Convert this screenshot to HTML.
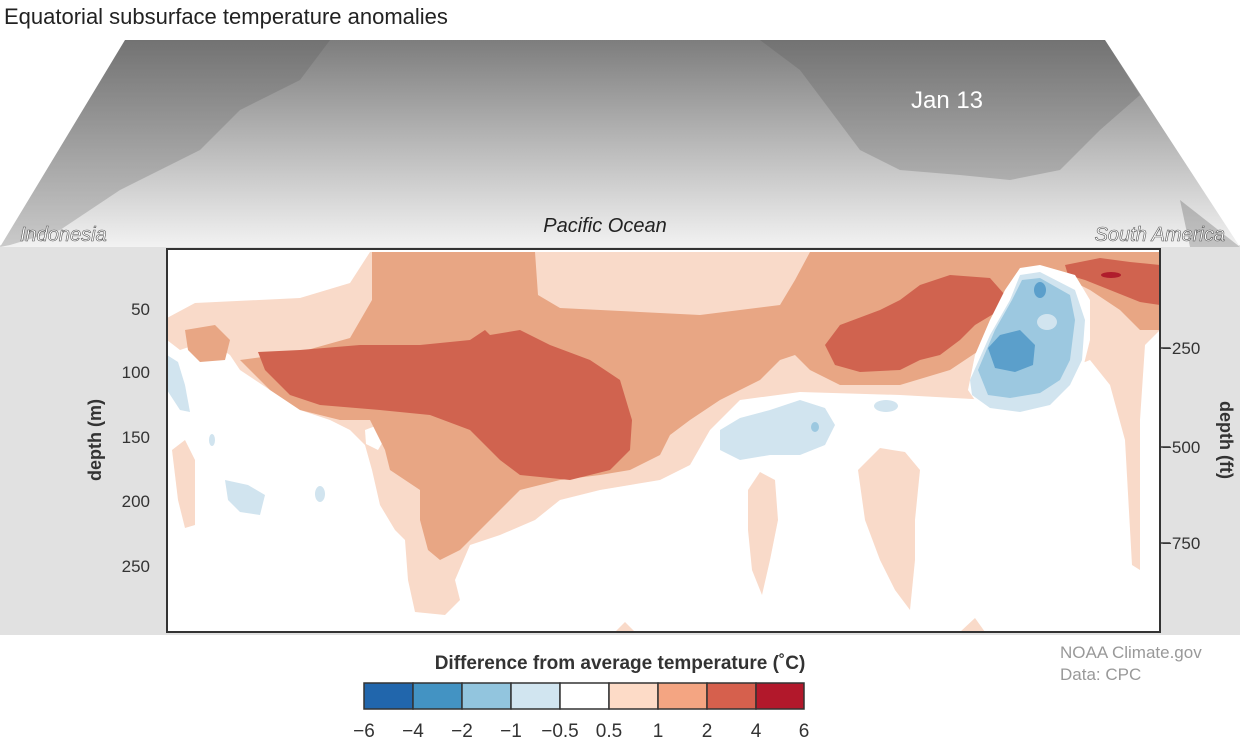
<!DOCTYPE html>
<html><head><meta charset="utf-8"><style>
body{margin:0;width:1240px;height:747px;background:#fff;overflow:hidden;font-family:"Liberation Sans",sans-serif}
</style></head><body>
<svg width="1240" height="747" xmlns="http://www.w3.org/2000/svg" font-family="Liberation Sans, sans-serif">
<defs>
<linearGradient id="mg" x1="0" y1="0" x2="0" y2="1">
<stop offset="0" stop-color="#7d7d7d"/><stop offset="0.5" stop-color="#b8b8b8"/><stop offset="1" stop-color="#f2f2f2"/></linearGradient>
</defs>
<rect x="0" y="245" width="1240" height="390" fill="#e1e1e1"/>
<text x="4" y="24" font-size="22" fill="#222">Equatorial subsurface temperature anomalies</text>
<polygon points="125,40 1105,40 1240,247 0,247" fill="url(#mg)"/>
<path d="M125,40 L330,40 L300,80 L240,110 L200,150 L120,190 L60,230 L10,245 L0,247 Z" fill="#555" opacity="0.25"/>
<path d="M760,40 L1105,40 L1140,95 L1100,130 L1060,170 L1010,180 L960,175 L900,170 L860,150 L830,110 L800,70 Z" fill="#555" opacity="0.25"/>
<path d="M1180,200 L1240,247 L1190,247 Z" fill="#555" opacity="0.3"/>
<text x="947" y="108" font-size="24" fill="#fff" text-anchor="middle">Jan 13</text>
<g font-size="20" font-style="italic" fill="#fff" stroke="#555" stroke-width="0.6">
<text x="20" y="241">Indonesia</text>
<text x="1225" y="241" text-anchor="end">South America</text>
</g>
<text x="605" y="232" font-size="20" fill="#222" font-style="italic" text-anchor="middle">Pacific Ocean</text>
<rect x="167" y="249" width="993" height="383" fill="#fff"/>
<g>
<path fill="#f9dac9" d="M167,318 L195,303 L300,298 L350,283 L370,252 L1160,252 L1160,330 L1145,345 L1140,420 L1140,570 L1132,565 L1125,440 L1110,385 L1090,360 L990,400 L900,395 L800,392 L740,400 L710,430 L690,465 L660,480 L600,490 L560,500 L535,520 L500,535 L470,545 L455,580 L460,600 L445,615 L415,612 L408,580 L405,540 L395,530 L380,505 L372,470 L365,445 L350,430 L330,420 L300,410 L270,390 L240,370 L230,355 L215,345 L195,345 L180,350 L167,340 Z"/>
<path fill="#f9dac9" d="M172,450 L185,440 L195,460 L195,525 L185,528 L178,500 Z"/>
<path fill="#f9dac9" d="M748,490 L760,472 L775,480 L778,520 L770,560 L762,595 L752,570 L748,530 Z"/>
<path fill="#f9dac9" d="M858,470 L880,448 L905,452 L920,470 L915,520 L915,560 L910,610 L895,590 L880,560 L865,520 Z"/>
<path fill="#fff" d="M365,430 L378,425 L385,438 L378,450 L366,444 Z"/>
<path fill="#e8a684" d="M185,330 L215,325 L230,340 L225,360 L200,362 L188,350 Z"/>
<path fill="#e8a684" d="M240,360 L300,352 L350,338 L372,300 L372,252 L535,252 L538,295 L560,308 L700,315 L780,305 L795,280 L810,252 L1160,252 L1160,330 L1140,330 L1120,310 L1090,290 L1060,275 L1030,270 L1015,290 L1005,320 L980,350 L950,370 L900,385 L840,385 L810,370 L795,355 L780,360 L760,380 L720,400 L690,420 L670,435 L660,455 L630,470 L600,475 L560,480 L520,490 L500,510 L480,530 L460,550 L440,560 L428,550 L420,520 L420,490 L405,480 L390,470 L385,450 L370,420 L340,420 L300,410 L270,390 Z"/>
<path fill="#d0634f" d="M258,352 L300,350 L360,345 L420,345 L470,340 L485,330 L490,335 L520,330 L550,345 L590,360 L620,380 L632,420 L630,450 L610,470 L570,480 L520,475 L500,460 L470,430 L430,415 L380,410 L320,405 L290,395 L265,370 Z"/>
<path fill="#d0634f" d="M825,345 L840,325 L880,310 L900,300 L920,285 L950,275 L990,278 L1005,295 L1000,310 L975,325 L960,340 L940,355 L920,360 L900,370 L860,372 L835,365 Z"/>
<path fill="#d0634f" d="M1065,265 L1100,258 L1130,262 L1160,265 L1160,305 L1140,302 L1110,290 L1085,280 L1068,275 Z"/>
<ellipse cx="1111" cy="275" rx="10" ry="3" fill="#b01d2c"/>
<path fill="#fff" d="M975,355 L990,320 L1005,290 L1020,268 L1040,265 L1075,275 L1090,300 L1090,340 L1080,380 L1060,410 L1020,420 L985,415 L968,390 Z"/>
<path fill="#d1e4ef" d="M970,380 L990,335 L1010,300 L1020,275 L1040,272 L1075,290 L1085,320 L1082,360 L1070,385 L1050,405 L1020,412 L990,408 L972,395 Z"/>
<path fill="#9cc8e0" d="M978,370 L995,330 L1012,300 L1022,280 L1040,278 L1070,295 L1075,320 L1070,360 L1060,380 L1040,393 L1010,398 L988,395 Z"/>
<ellipse cx="1047" cy="322" rx="10" ry="8" fill="#d1e4ef"/>
<path fill="#5b9fcb" d="M988,348 L1000,335 L1020,330 L1035,345 L1033,365 L1015,372 L995,368 Z"/>
<ellipse cx="1040" cy="290" rx="6" ry="8" fill="#5b9fcb"/>
<path fill="#d1e4ef" d="M720,430 L740,418 L770,410 L800,400 L825,408 L835,425 L825,445 L800,455 L770,455 L740,460 L720,450 Z"/>
<ellipse cx="815" cy="427" rx="4" ry="5" fill="#9cc8e0"/>
<ellipse cx="886" cy="406" rx="12" ry="6" fill="#d1e4ef"/>
<path fill="#d1e4ef" d="M167,355 L178,362 L185,385 L190,412 L180,410 L167,390 Z"/>
<path fill="#d1e4ef" d="M225,480 L248,485 L265,495 L260,515 L240,512 L228,500 Z"/>
<ellipse cx="320" cy="494" rx="5" ry="8" fill="#d1e4ef"/>
<ellipse cx="212" cy="440" rx="3" ry="6" fill="#d1e4ef"/>
<path fill="#f9dac9" d="M615,632 L625,622 L635,632 Z M960,632 L975,618 L985,632 Z"/>
</g>
<rect x="167" y="249" width="993" height="383" fill="none" stroke="#333" stroke-width="2"/>
<g font-size="17" fill="#333" text-anchor="end">
<text x="150" y="315">50</text><text x="150" y="378">100</text><text x="150" y="443">150</text><text x="150" y="507">200</text><text x="150" y="572">250</text>
</g>
<g stroke="#333" stroke-width="1.5"><line x1="1160" y1="348" x2="1170" y2="348"/><line x1="1160" y1="447" x2="1170" y2="447"/><line x1="1160" y1="543" x2="1170" y2="543"/></g>
<g font-size="17" fill="#333"><text x="1162" y="354">−250</text><text x="1162" y="453">−500</text><text x="1162" y="549">−750</text></g>
<text transform="translate(101,440) rotate(-90)" font-size="18" font-weight="bold" fill="#333" text-anchor="middle">depth (m)</text>
<text transform="translate(1220,440) rotate(90)" font-size="18" font-weight="bold" fill="#333" text-anchor="middle">depth (ft)</text>
<text x="620" y="669" font-size="19" font-weight="bold" fill="#333" text-anchor="middle">Difference from average temperature (˚C)</text>
<g stroke="#333" stroke-width="1.5">
<rect x="364" y="683" width="49" height="26" fill="#2166ac"/>
<rect x="413" y="683" width="49" height="26" fill="#4393c3"/>
<rect x="462" y="683" width="49" height="26" fill="#92c5de"/>
<rect x="511" y="683" width="49" height="26" fill="#d1e5f0"/>
<rect x="560" y="683" width="49" height="26" fill="#ffffff"/>
<rect x="609" y="683" width="49" height="26" fill="#fddbc7"/>
<rect x="658" y="683" width="49" height="26" fill="#f4a582"/>
<rect x="707" y="683" width="49" height="26" fill="#d6604d"/>
<rect x="756" y="683" width="48" height="26" fill="#b2182b"/>
</g>
<g font-size="19" fill="#333" text-anchor="middle">
<text x="364" y="737">−6</text><text x="413" y="737">−4</text><text x="462" y="737">−2</text><text x="511" y="737">−1</text><text x="560" y="737">−0.5</text><text x="609" y="737">0.5</text><text x="658" y="737">1</text><text x="707" y="737">2</text><text x="756" y="737">4</text><text x="804" y="737">6</text>
</g>
<text x="1060" y="658" font-size="17" fill="#999">NOAA Climate.gov</text>
<text x="1060" y="680" font-size="17" fill="#999">Data: CPC</text>
</svg>
</body></html>
